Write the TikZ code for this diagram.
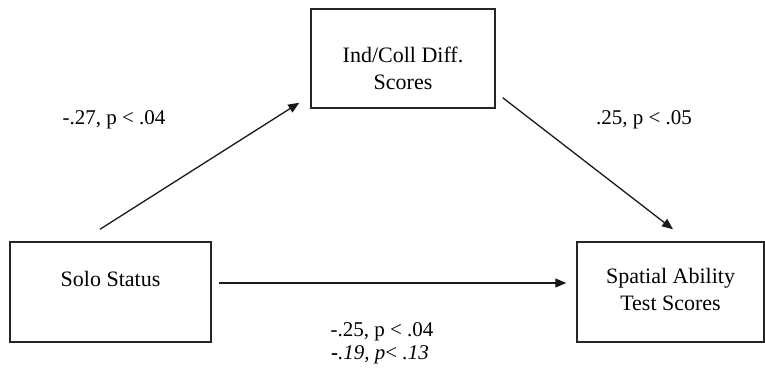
\documentclass[tikz,border=0pt]{standalone}
\usepackage{fontspec}
\setmainfont{Liberation Serif}
\usetikzlibrary{arrows.meta}
\newcommand{\boxlines}[2]{\raisebox{#1}[\height][\depth]{\begin{tabular}{@{}c@{}}#2\end{tabular}}}

\begin{document}
\begin{tikzpicture}[x=1pt, y=1pt,
    box/.style = {draw = black!85, line width = 1.5pt, inner sep = 0pt, font = \fontsize{22}{27}\selectfont},
    arr/.style = {-{Triangle[length = 11pt, width = 9pt]}, line width = 1.3pt, color = black!90},
    lab/.style = {anchor = base, inner sep = 0pt, font = \fontsize{21}{23}\selectfont}]
    \useasboundingbox (0,0) rectangle (765,369);
    \node [box, minimum width = 184, minimum height = 99] (coll) at (403,310.5) {\boxlines{-12.5pt}{Ind/Coll Diff.\\Scores}};
    \node [box, minimum width = 201, minimum height = 100] (solo) at (110.5,77) {\boxlines{10.5pt}{Solo Status}};
    \node [box, minimum width = 187, minimum height = 100] (spatial) at (670.5,77) {\boxlines{0pt}{Spatial Ability\\Test Scores}};
    \draw [arr] ([shift = {(-10.5,12)}]solo.north) -- ([shift = {(-11,6)}]coll.south west);
    \draw [arr] ([shift = {(7,11)}]coll.south east) -- ([shift = {(2.5,12)}]spatial.north);
    \draw [arr] ([shift = {(7,9)}]solo.east) -- ([shift = {(-10,9)}]spatial.west);
    \node [lab] (apath) at (114,244) {-.27, p < .04};
    \node [lab] (bpath) at (644,244) {.25, p < .05};
    \node [lab] (cpath) at (382,32) {-.25, p < .04};
    \node [lab] (cprime) at (380,9) {\textbf{-}\textit{.19, p}< \textit{.13}};
\end{tikzpicture}
\end{document}
